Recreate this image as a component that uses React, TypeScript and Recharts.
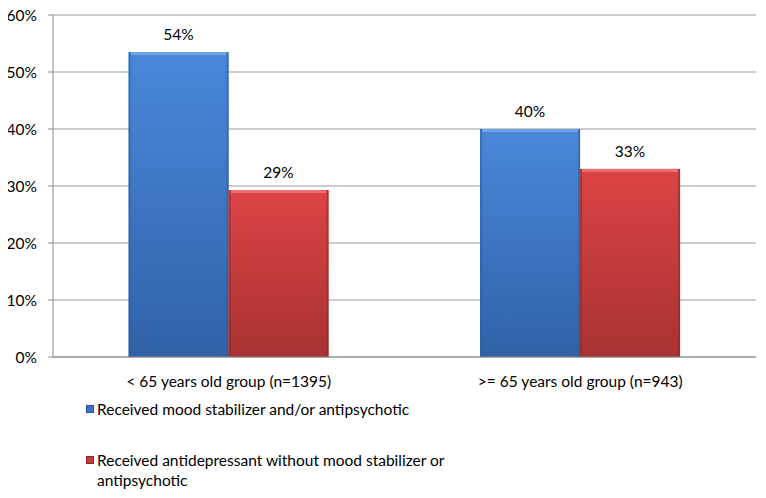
import React from 'react';
import { BarChart, Bar, XAxis, YAxis, CartesianGrid, LabelList } from 'recharts';

const categories = ['< 65 years old group (n=1395)', '>= 65 years old group (n=943)'];
const moodStabilizer = [53.5, 40.0];
const antidepressantOnly = [29.3, 33.0];
const seriesNames = [
    'Received mood stabilizer and/or antipsychotic',
    'Received antidepressant without mood stabilizer or antipsychotic',
];
const yTicks = [0, 10, 20, 30, 40, 50, 60];

const FONT = 'Lato, "Open Sans", sans-serif';

const data = categories.map((name, i) => ({
    name,
    mood: moodStabilizer[i],
    anti: antidepressantOnly[i],
}));

// bevelled Excel-2007 style bar
function BevelBar(props: any) {
    const { x, y, width, height, gradId, edge, light } = props;
    if (!height || height <= 0) return null;
    return (
        <g>
            <rect x={x} y={y} width={width} height={height} fill={`url(#${gradId})`} />
            <rect x={x + 2} y={y} width={width - 4} height={3} fill={light} opacity={0.8} />
            <rect x={x} y={y} width={2} height={height} fill={edge} opacity={0.6} />
            <rect x={x + width - 2} y={y} width={2} height={height} fill={edge} opacity={0.6} />
        </g>
    );
}

function LegendBox() {
    const colors = ['#3a72c4', '#c43c3c'];
    return (
        <div
            style={{
                position: 'absolute',
                left: 86,
                top: 399,
                fontFamily: FONT,
                fontSize: 15.5,
                color: '#000',
                lineHeight: '20px',
            }}
        >
            {seriesNames.map((s, i) => (
                <div key={s} style={{ display: 'flex', alignItems: 'flex-start', marginBottom: i === 0 ? 31 : 0 }}>
                    <span
                        style={{
                            display: 'inline-block',
                            width: 6,
                            height: 6,
                            background: colors[i],
                            border: '1px solid ' + (i === 0 ? '#2a5594' : '#8c2626'),
                            marginTop: 6,
                            marginRight: 3,
                            flex: 'none',
                        }}
                    />
                    <span style={{ width: 370 }}>{s}</span>
                </div>
            ))}
        </div>
    );
}

export default function App() {
    return (
        <div style={{ position: 'relative', margin: -8, width: 766, height: 498 }}>
            <BarChart
                width={766}
                height={498}
                data={data}
                margin={{ top: 15, right: 10, bottom: 111, left: 0 }}
                barCategoryGap="21.5%"
                barGap={0}
                style={{ fontFamily: FONT }}
            >
                <defs>
                    <linearGradient id="gBlue" x1="0" y1="0" x2="0" y2="1">
                        <stop offset="0%" stopColor="#4a88da" />
                        <stop offset="100%" stopColor="#3062a8" />
                    </linearGradient>
                    <linearGradient id="gRed" x1="0" y1="0" x2="0" y2="1">
                        <stop offset="0%" stopColor="#dc4444" />
                        <stop offset="100%" stopColor="#a83232" />
                    </linearGradient>
                </defs>
                <CartesianGrid vertical={false} stroke="#9a9a9a" strokeWidth={1} />
                <XAxis
                    dataKey="name"
                    height={30}
                    tickLine={false}
                    tickSize={0}
                    tickMargin={19}
                    axisLine={{ stroke: '#8a8a8a' }}
                    tick={{ fill: '#000', fontSize: 15.5, fontFamily: FONT }}
                />
                <YAxis
                    domain={[0, 60]}
                    ticks={yTicks}
                    width={53}
                    tickSize={5}
                    tickMargin={11}
                    tickFormatter={(v: number) => `${v}%`}
                    axisLine={{ stroke: '#8a8a8a' }}
                    tickLine={{ stroke: '#8a8a8a' }}
                    tick={{ fill: '#000', fontSize: 15.5, fontFamily: FONT }}
                    interval={0}
                />
                <Bar
                    dataKey="mood"
                    name={seriesNames[0]}
                    isAnimationActive={false}
                    shape={(p: any) => <BevelBar {...p} gradId="gBlue" edge="#2c5a9c" light="#7aaae6" />}
                >
                    <LabelList
                        dataKey="mood"
                        position="top"
                        offset={12}
                        formatter={(v: number) => `${Math.round(v)}%`}
                        style={{ fill: '#000', fontSize: 15.5, fontFamily: FONT }}
                    />
                </Bar>
                <Bar
                    dataKey="anti"
                    name={seriesNames[1]}
                    isAnimationActive={false}
                    shape={(p: any) => <BevelBar {...p} gradId="gRed" edge="#8e2a2a" light="#ec7a7a" />}
                >
                    <LabelList
                        dataKey="anti"
                        position="top"
                        offset={12}
                        formatter={(v: number) => `${Math.round(v)}%`}
                        style={{ fill: '#000', fontSize: 15.5, fontFamily: FONT }}
                    />
                </Bar>
            </BarChart>
            <LegendBox />
        </div>
    );
}
